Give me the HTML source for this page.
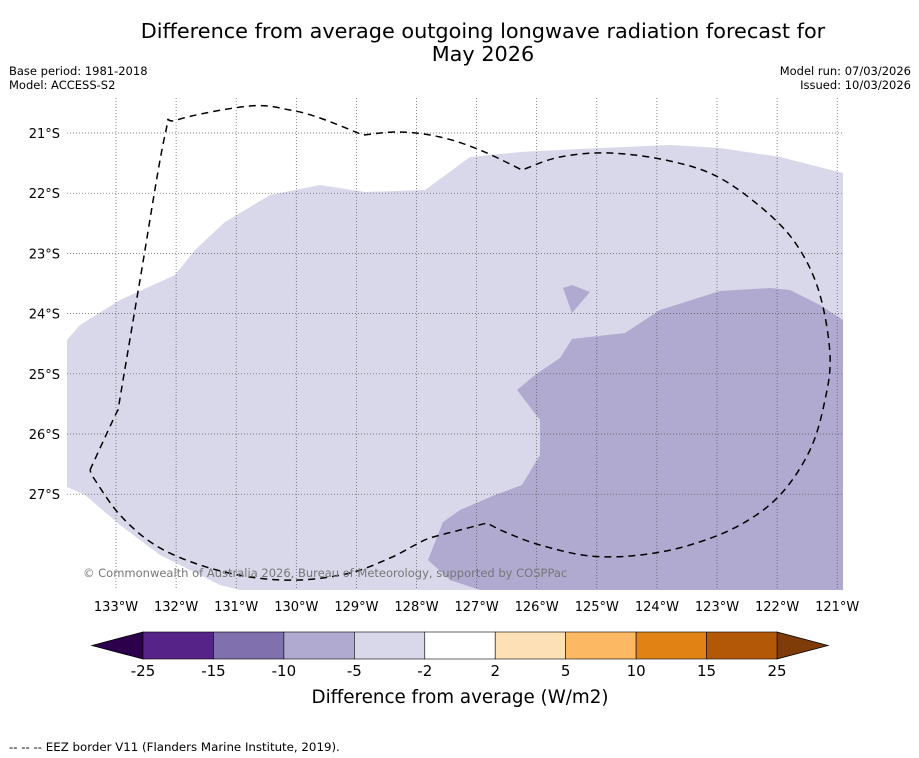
<!DOCTYPE html>
<html><head><meta charset="utf-8"><style>
body{margin:0;background:#fff;font-family:"DejaVu Sans","Liberation Sans",sans-serif}
svg{display:block}
</style></head><body>
<svg width="919" height="758" viewBox="0 0 919 758" font-family="DejaVu Sans, Liberation Sans, sans-serif">
<text x="483" y="38" font-size="20.8" text-anchor="middle">Difference from average outgoing longwave radiation forecast for</text>
<text x="483" y="61" font-size="20.8" text-anchor="middle">May 2026</text>
<text x="9" y="75" font-size="11.5">Base period: 1981-2018</text>
<text x="9" y="89" font-size="11.5">Model: ACCESS-S2</text>
<text x="911" y="75" font-size="11.5" text-anchor="end">Model run: 07/03/2026</text>
<text x="911" y="89" font-size="11.5" text-anchor="end">Issued: 10/03/2026</text>
<g>
<polygon fill="#d8d8ea" points="67,340 80,325 120,300 175,275 195,250 225,222 270,195 320,185 365,192 425,190 470,157 520,152 600,148 670,145 720,148 780,157 843,173 843,590 240,590 220,585 160,555 120,525 85,495 67,487"/>
<polygon fill="#b1aad0" points="843,320 820,305 790,290 770,288 720,291 660,310 625,333 572,339 560,358 535,375 517,390 540,420 540,455 522,485 495,495 460,510 443,522 428,560 450,580 480,590 843,590"/>
<polygon fill="#b1aad0" points="563,288 572,285 590,292 572,313"/>
<g id="grid" stroke="#555" stroke-width="0.7" stroke-dasharray="1,2"></g>
<path id="eez" fill="none" stroke="#000" stroke-width="1.5" stroke-dasharray="7,5"/>
<text x="83" y="577" font-size="11.5" fill="#777">© Commonwealth of Australia 2026, Bureau of Meteorology, supported by COSPPac</text>
</g>
<g id="axes" font-size="13"></g>
<g id="cbar"></g>
<text x="460" y="703" font-size="18.3" text-anchor="middle">Difference from average (W/m2)</text>
<text x="9" y="751" font-size="11.8">--  --  -- EEZ border V11 (Flanders Marine Institute, 2019).</text>
</svg>
<script>
const lons=[133,132,131,130,129,128,127,126,125,124,123,122,121];
const lats=[21,22,23,24,25,26,27];
const cbTicks=["-25","-15","-10","-5","-2","2","5","10","15","25"];
const cbColors=["#562388","#8070ad","#b1aad0","#d8d8ea","#ffffff","#fee0b6","#fdb863","#e08214","#b35806"];
const NS="http://www.w3.org/2000/svg";
const xOf=l=>116+(133-l)*60.1;
const yOf=l=>133+(l-21)*60.2;
function mk(t,a,p){const e=document.createElementNS(NS,t);for(const k in a)e.setAttribute(k,a[k]);p.appendChild(e);return e;}
const grid=document.getElementById('grid'),axes=document.getElementById('axes'),cb=document.getElementById('cbar');
// EEZ outline, smoothed except at corner points
const eez=[[90,470,1],[113,420,0],[118,410,1],[140,280,0],[165,135,0],[177,120,0],[250,106,0],[290,110,0],[320,118,0],[363,135,1],[400,132,0],[440,137,0],[480,150,0],[522,170,1],[560,157,0],[610,153,0],[670,161,0],[720,178,0],[770,215,0],[800,250,0],[820,295,0],[830,355,0],[825,400,0],[810,450,0],[780,495,0],[740,525,0],[690,545,0],[640,555,0],[590,556,0],[540,545,0],[505,532,0],[487,523,1],[460,530,0],[430,538,0],[415,545,0],[390,558,0],[350,573,0],[300,580,0],[250,577,0],[200,565,0],[155,545,0],[120,515,0],[95,480,0],[90,470,1]];
let d=`M${eez[0][0]},${eez[0][1]}`;
for(let i=0;i<eez.length-1;i++){
 const p0=eez[Math.max(0,i-1)],p1=eez[i],p2=eez[i+1],p3=eez[Math.min(eez.length-1,i+2)];
 const a=p1[2]?p1:p0, b=p2[2]?p2:p3;
 const c1=[p1[0]+(p2[0]-a[0])/6,p1[1]+(p2[1]-a[1])/6];
 const c2=[p2[0]-(b[0]-p1[0])/6,p2[1]-(b[1]-p1[1])/6];
 d+=` C${c1[0]},${c1[1]} ${c2[0]},${c2[1]} ${p2[0]},${p2[1]}`;
}
document.getElementById('eez').setAttribute('d',d);
lons.forEach(l=>{const x=xOf(l);
const g=mk('line',{x1:x,x2:x,y1:98,y2:590},grid);


const t=mk('text',{x:x,y:611,'text-anchor':'middle'},axes);t.textContent=l+'°W';

});
lats.forEach(l=>{const y=yOf(l);
const g=mk('line',{x1:67,x2:843,y1:y,y2:y},grid);


const t=mk('text',{x:60,y:y+5,'text-anchor':'end'},axes);t.textContent=l+'°S';

});
const x0=143,w=(777-143)/cbColors.length,y0=632,h=27;
const lt=mk('polygon',{points:`92,${y0+h/2} ${x0},${y0} ${x0},${y0+h}`,fill:'#2d004b',stroke:'#000','stroke-width':0.8},cb);


const rt=mk('polygon',{points:`828,${y0+h/2} 777,${y0} 777,${y0+h}`,fill:'#7f3b08',stroke:'#000','stroke-width':0.8},cb);


cbColors.forEach((c,i)=>{const r=mk('rect',{x:x0+i*w,y:y0,width:w,height:h,fill:c,stroke:'#000','stroke-width':0.6},cb);

});
cbTicks.forEach((s,i)=>{const t=mk('text',{x:x0+i*w,y:676,'font-size':15,'text-anchor':'middle'},cb);t.textContent=s;

});
</script>
</body></html>
